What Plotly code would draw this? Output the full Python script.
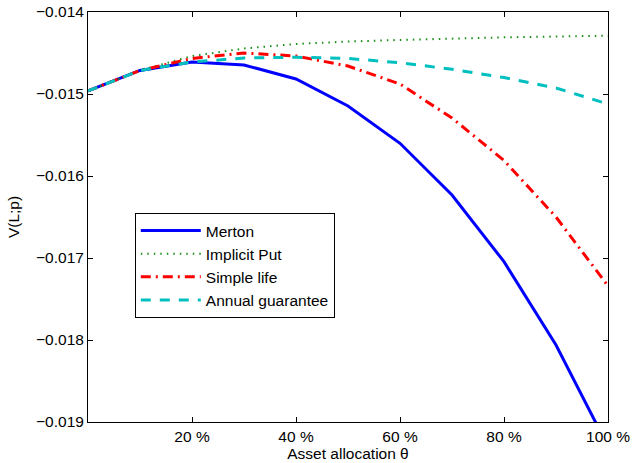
import plotly.graph_objects as go

theta = [0, 10, 20, 30, 40, 50, 60, 70, 80, 90, 100]
merton = [-0.014963, -0.014713, -0.014610, -0.014646, -0.014817, -0.015146,
          -0.015601, -0.016232, -0.017045, -0.018061, -0.019299]
implicit_put = [-0.014963, -0.014713, -0.014537, -0.014445, -0.014390, -0.014360,
                -0.014341, -0.014323, -0.014309, -0.014299, -0.014289]
simple_life = [-0.014963, -0.014713, -0.014567, -0.014500, -0.014537, -0.014659,
               -0.014878, -0.015293, -0.015811, -0.016500, -0.017341]
annual_guarantee = [-0.014963, -0.014713, -0.014610, -0.014561, -0.014552, -0.014567,
                    -0.014618, -0.014699, -0.014799, -0.014927, -0.015122]

x_ticks = [20, 40, 60, 80, 100]
x_ticktext = ["20 %", "40 %", "60 %", "80 %", "100 %"]
y_ticks = [-0.019, -0.018, -0.017, -0.016, -0.015, -0.014]
y_ticktext = ["\u22120.019", "\u22120.018", "\u22120.017", "\u22120.016", "\u22120.015", "\u22120.014"]

FONT = "Liberation Sans, Arial, Helvetica, sans-serif"
FS = 15.5

fig = go.Figure()
fig.add_trace(go.Scatter(x=theta, y=merton, mode="lines", name="Merton",
                         line=dict(color="#0000FF", width=3)))
fig.add_trace(go.Scatter(x=theta, y=implicit_put, mode="lines", name="Implicit Put",
                         line=dict(color="#1a8f1a", width=2, dash="1.5px,5px")))
fig.add_trace(go.Scatter(x=theta, y=simple_life, mode="lines", name="Simple life",
                         line=dict(color="#FF0000", width=3, dash="10px,5px,2px,5px")))
fig.add_trace(go.Scatter(x=theta, y=annual_guarantee, mode="lines", name="Annual guarantee",
                         line=dict(color="#00BFBF", width=3, dash="10px,9px")))

axis_common = dict(showline=True, linecolor="black", linewidth=1, mirror="ticks",
                   ticks="inside", ticklen=5, tickcolor="black", showgrid=False,
                   zeroline=False, automargin=False,
                   tickfont=dict(family=FONT, size=FS, color="black"))

fig.update_xaxes(range=[0, 100], tickvals=x_ticks, ticktext=x_ticktext,
                 title=dict(text="Asset allocation \u03b8", font=dict(family=FONT, size=FS, color="black"),
                            standoff=0),
                 **axis_common)
fig.update_yaxes(range=[-0.019, -0.014], tickvals=y_ticks, ticktext=y_ticktext,
                 title=dict(text="V(L;p)", font=dict(family=FONT, size=FS, color="black"),
                            standoff=12),
                 **axis_common)

fig.update_layout(
    width=632, height=463,
    margin=dict(l=88, r=24, t=12, b=41),
    paper_bgcolor="white", plot_bgcolor="white",
    font=dict(family=FONT, size=FS, color="black"),
    legend=dict(x=0.09, y=0.51, xanchor="left", yanchor="top",
                bgcolor="white", bordercolor="black", borderwidth=1,
                font=dict(family=FONT, size=FS, color="black"),
                tracegroupgap=0, itemwidth=60),
    showlegend=True,
)

fig.write_html("out.html", config={"displayModeBar": False},
               post_script="document.body.style.margin='0';document.body.style.overflow='hidden';")
